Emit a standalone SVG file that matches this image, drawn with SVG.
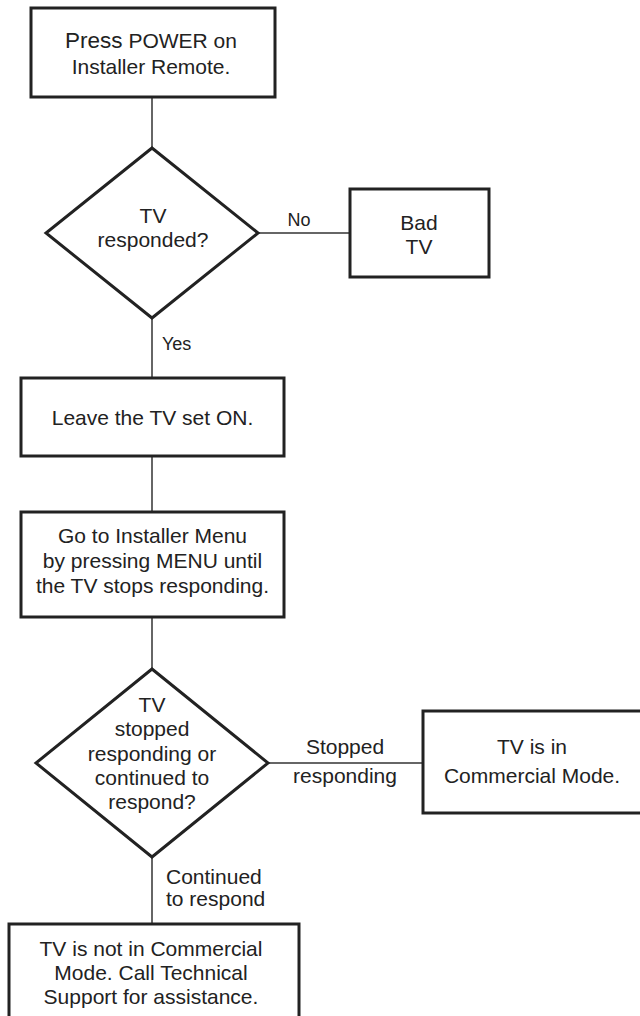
<svg xmlns="http://www.w3.org/2000/svg" width="640" height="1016" viewBox="0 0 640 1016">
<style>
.box{fill:#fff;stroke:#222;stroke-width:3}
.dia{fill:#fff;stroke:#222;stroke-width:3;stroke-linejoin:miter}
.con{stroke:#333;stroke-width:1.5;fill:none}
text{font-family:"Liberation Sans",Arial,sans-serif;fill:#222}
.t{font-size:21px;text-anchor:middle}
.l{font-size:18px}
.lb{font-size:21px}
</style>
<rect width="640" height="1016" fill="#fff"/>
<g id="connectors">
<line class="con" x1="152" y1="97" x2="152" y2="148"/>
<line class="con" x1="258" y1="233" x2="350" y2="233"/>
<line class="con" x1="152" y1="318" x2="152" y2="378"/>
<line class="con" x1="152" y1="456" x2="152" y2="512"/>
<line class="con" x1="152" y1="617" x2="152" y2="669"/>
<line class="con" x1="268" y1="763" x2="423" y2="763"/>
<line class="con" x1="152" y1="857" x2="152" y2="924"/>
<text class="l" x="299" y="226" text-anchor="middle">No</text>
<text class="l" x="162" y="350">Yes</text>
<text class="lb" x="345" y="754" text-anchor="middle">Stopped</text>
<text class="lb" x="345" y="783" text-anchor="middle">responding</text>
<text class="lb" x="166" y="884">Continued</text>
<text class="lb" x="166" y="906">to respond</text>
</g>
<g id="n1">
<rect class="box" x="31" y="8" width="244" height="89"/>
<text class="t" x="151" y="48"><tspan font-size="22.5">Press</tspan> POWER on</text>
<text class="t" x="151" y="74">Installer Remote.</text>
</g>
<g id="d1">
<polygon class="dia" points="152,148 258,233 152,318 46,233"/>
<text class="t" x="153" y="223">TV</text>
<text class="t" x="153" y="247">responded?</text>
</g>
<g id="n2">
<rect class="box" x="350" y="189" width="139" height="88"/>
<text class="t" x="419" y="230">Bad</text>
<text class="t" x="419" y="254">TV</text>
</g>
<g id="n3">
<rect class="box" x="21" y="378" width="263" height="78"/>
<text class="t" x="152.5" y="425">Leave the TV set ON.</text>
</g>
<g id="n4">
<rect class="box" x="21" y="512" width="263" height="105"/>
<text class="t" x="152.5" y="543">Go to Installer Menu</text>
<text class="t" x="152.5" y="568">by pressing MENU until</text>
<text class="t" x="152.5" y="593">the TV stops responding.</text>
</g>
<g id="d2">
<polygon class="dia" points="152,669 268,763 152,857 36,763"/>
<text class="t" x="152" y="712">TV</text>
<text class="t" x="152" y="736">stopped</text>
<text class="t" x="152" y="761">responding or</text>
<text class="t" x="152" y="785">continued to</text>
<text class="t" x="152" y="809">respond?</text>
</g>
<g id="n5">
<rect class="box" x="423" y="711" width="240" height="102"/>
<text class="t" x="532" y="754">TV is in</text>
<text class="t" x="532" y="783">Commercial Mode.</text>
</g>
<g id="n6">
<rect class="box" x="9" y="924" width="290" height="110"/>
<text class="t" x="151" y="956">TV is not in Commercial</text>
<text class="t" x="151" y="980">Mode. Call Technical</text>
<text class="t" x="151" y="1004">Support for assistance.</text>
</g>
</svg>
